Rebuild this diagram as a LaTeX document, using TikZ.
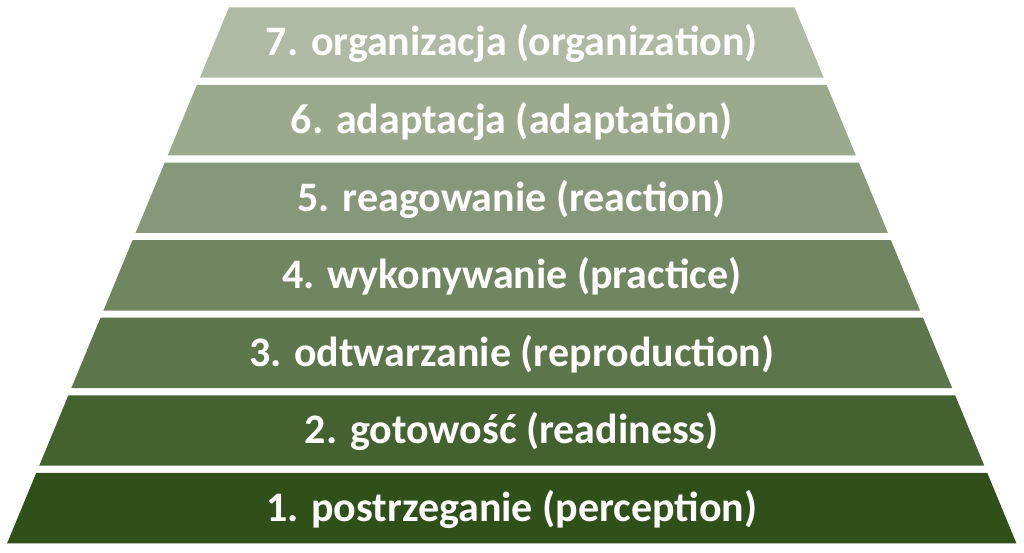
\documentclass[tikz,border=0pt]{standalone}
\usepackage{fontspec}
\setmainfont{Carlito}
\definecolor{c7}{RGB}{174,186,163}
\definecolor{c6}{RGB}{155,169,141}
\definecolor{c5}{RGB}{134,152,121}
\definecolor{c4}{RGB}{112,134,96}
\definecolor{c3}{RGB}{92,117,74}
\definecolor{c2}{RGB}{68,98,48}
\definecolor{c1}{RGB}{48,80,26}
\tikzset{lbl/.style={text=white,font=\fontsize{42}{48}\selectfont\bfseries,anchor=base,inner sep=0pt}}
\begin{document}
\begin{tikzpicture}[x=1pt,y=-1pt]
\useasboundingbox (0,0) rectangle (1024,552);
\foreach \k/\c/\t in {0/c7/{7. organizacja (organization)},
                      1/c6/{6. adaptacja (adaptation)},
                      2/c5/{5. reagowanie (reaction)},
                      3/c4/{4. wykonywanie (practice)},
                      4/c3/{3. odtwarzanie (reproduction)},
                      5/c2/{2. gotowość (readiness)},
                      6/c1/{1. postrzeganie (perception)}}{
  \pgfmathsetmacro\yt{7.3+77.6*\k}
  \pgfmathsetmacro\yb{\yt+70.4}
  \pgfmathsetmacro\xlt{229-0.414*(\yt-7.3)}
  \pgfmathsetmacro\xlb{229-0.414*(\yb-7.3)}
  \pgfmathsetmacro\xrt{1023.5-\xlt}
  \pgfmathsetmacro\xrb{1023.5-\xlb}
  \pgfmathsetmacro\yc{\yt+35.2+13.4}
  \fill[\c] (\xlt,\yt) -- (\xrt,\yt) -- (\xrb,\yb) -- (\xlb,\yb) -- cycle;
  \node[lbl] (t\k) at (511.8,\yc) {\t};
}
\end{tikzpicture}
\end{document}
